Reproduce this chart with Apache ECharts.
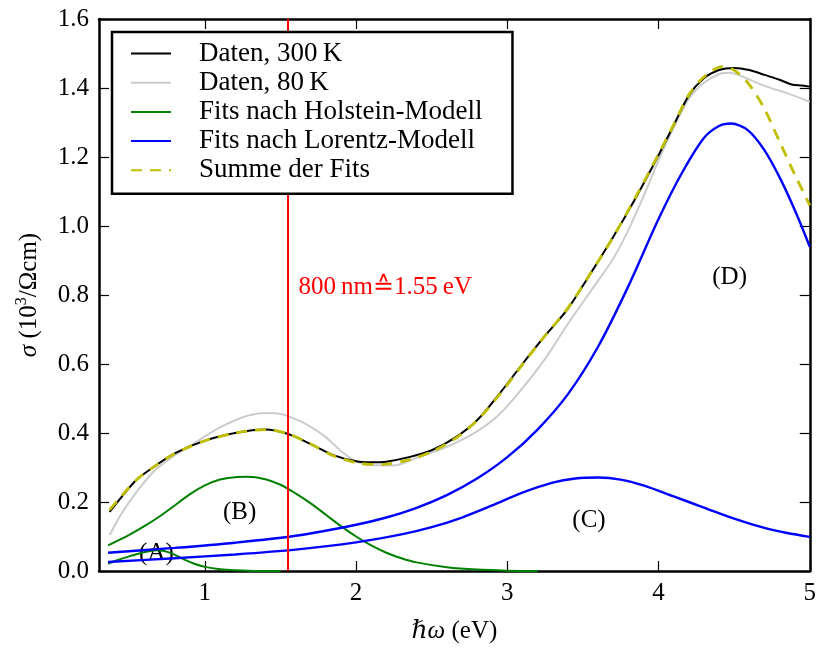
<!DOCTYPE html>
<html>
<head>
<meta charset="utf-8">
<script src="https://cdn.jsdelivr.net/npm/echarts@6/dist/echarts.min.js"></script>
<style>
html,body{margin:0;padding:0;background:#fff;}
#chart{width:819px;height:650px;}
</style>
</head>
<body>
<div id="chart"></div>
<script>
// ---- data ----
const x300 = [0.37,0.45,0.55,0.65,0.8,1.0,1.2,1.4,1.55,1.7,1.85,2.0,2.1,2.2,2.35,2.5,2.65,2.8,2.95,3.1,3.25,3.4,3.55,3.7,3.85,4.0,4.1,4.2,4.3,4.4,4.5,4.6,4.7,4.8,4.88,4.95,5.0];
const y300 = [0.171,0.215,0.265,0.298,0.341,0.378,0.400,0.410,0.397,0.368,0.336,0.318,0.315,0.317,0.330,0.350,0.385,0.437,0.515,0.600,0.682,0.760,0.862,0.968,1.082,1.205,1.292,1.378,1.428,1.452,1.458,1.452,1.438,1.424,1.410,1.407,1.404];

const x80 = [0.37,0.45,0.55,0.67,0.8,0.9,1.0,1.1,1.2,1.3,1.4,1.5,1.6,1.7,1.8,1.9,2.0,2.1,2.25,2.4,2.6,2.8,2.95,3.1,3.25,3.4,3.55,3.7,3.8,3.9,4.0,4.1,4.2,4.3,4.4,4.47,4.55,4.65,4.75,4.85,5.0];
const y80 = [0.104,0.167,0.230,0.292,0.335,0.362,0.390,0.416,0.437,0.452,0.458,0.455,0.440,0.418,0.388,0.348,0.318,0.307,0.306,0.328,0.360,0.405,0.455,0.530,0.615,0.716,0.810,0.905,0.988,1.085,1.190,1.285,1.368,1.415,1.440,1.444,1.434,1.415,1.399,1.385,1.360];

const xHolA = [0.36,0.42,0.49,0.56,0.63,0.68,0.73,0.78,0.83,0.88,0.93,1.0,1.1,1.2,1.35,1.5];
const yHolA = [0.021,0.031,0.041,0.050,0.057,0.060,0.058,0.051,0.041,0.030,0.021,0.012,0.005,0.002,0.0,0.0];

const xHolB = [0.36,0.5,0.6,0.7,0.8,0.9,1.0,1.1,1.2,1.28,1.4,1.5,1.6,1.7,1.8,1.9,2.0,2.1,2.2,2.3,2.4,2.6,2.8,3.0,3.2];
const yHolB = [0.0745,0.105,0.130,0.158,0.190,0.222,0.248,0.265,0.272,0.273,0.266,0.250,0.225,0.196,0.163,0.130,0.100,0.074,0.053,0.037,0.025,0.011,0.004,0.001,0.0];

const xLorC = [0.36,0.8,1.2,1.6,2.0,2.3,2.5,2.7,2.9,3.1,3.3,3.45,3.6,3.75,3.9,4.1,4.3,4.5,4.7,4.85,5.0];
const yLorC = [0.026,0.037,0.048,0.062,0.083,0.106,0.127,0.155,0.190,0.227,0.256,0.268,0.271,0.265,0.248,0.216,0.184,0.152,0.125,0.110,0.099];

const xLorD = [0.36,0.8,1.2,1.6,2.0,2.2,2.4,2.6,2.8,3.0,3.2,3.4,3.6,3.8,4.0,4.15,4.3,4.4,4.48,4.59,4.70,4.81,4.92,5.0];
const yLorD = [0.053,0.067,0.082,0.102,0.134,0.155,0.183,0.220,0.268,0.330,0.410,0.512,0.650,0.825,1.020,1.150,1.255,1.290,1.297,1.278,1.220,1.133,1.027,0.940];

const xSum = [0.37,0.45,0.55,0.65,0.8,1.0,1.2,1.4,1.55,1.7,1.85,2.0,2.1,2.2,2.35,2.5,2.65,2.8,2.95,3.1,3.25,3.4,3.55,3.7,3.85,4.0,4.1,4.2,4.3,4.42,4.5,4.6,4.7,4.8,4.9,5.0];
const ySum = [0.177,0.218,0.265,0.298,0.340,0.377,0.400,0.410,0.398,0.368,0.334,0.314,0.309,0.310,0.322,0.346,0.382,0.436,0.512,0.598,0.682,0.762,0.862,0.968,1.085,1.208,1.294,1.380,1.432,1.462,1.452,1.410,1.340,1.245,1.150,1.060];

const laserX = 1.55;
const laserText = '800\u2009nm\u22591.55\u2009eV';
const annoX = [0.68, 1.23, 3.54, 4.47];
const annoY = [0.051, 0.170, 0.147, 0.852];
const annoText = ['(A)', '(B)', '(C)', '(D)'];

const xTicks = [1, 2, 3, 4, 5];
const legendNames = ['Daten, 300\u2009K', 'Daten, 80\u2009K', 'Fits nach Holstein-Modell', 'Fits nach Lorentz-Modell', 'Summe der Fits'];

// ---- build ----
const zip = (xs, ys) => xs.map((x, i) => [x, ys[i]]);
const FONT = '"Liberation Serif", "DejaVu Serif", serif';

function lineSeries(name, xs, ys, color, width, extra) {
  return Object.assign({
    name: name, type: 'line', data: zip(xs, ys), symbol: 'none', showSymbol: false, smooth: 0.3,
    lineStyle: { color: color, width: width }, itemStyle: { color: color },
    emphasis: { disabled: true }, silent: true
  }, extra || {});
}

const axisCommon = {
  axisLine: { show: true, onZero: false, lineStyle: { color: '#000', width: 2.5 } },
  splitLine: { show: false }
};

const option = {
  animation: false,
  backgroundColor: '#fff',
  grid: { left: 99, right: 7, top: 19, bottom: 79, containLabel: false },
  xAxis: [
    Object.assign({}, axisCommon, {
      type: 'value', min: 0.3, max: 5, position: 'bottom',
      axisTick: { show: true, inside: true, length: 10, customValues: xTicks, lineStyle: { color: '#000', width: 1.2 } },
      axisLabel: { customValues: xTicks, fontFamily: FONT, fontSize: 25, color: '#000', margin: 10 },
      name: '{i|\u210F\u03C9} (eV)', nameLocation: 'middle', nameGap: 48,
      nameTextStyle: { fontFamily: FONT, fontSize: 25, color: '#000',
        rich: { i: { fontFamily: FONT, fontSize: 25, fontStyle: 'italic', color: '#000' } } }
    }),
    Object.assign({}, axisCommon, {
      type: 'value', min: 0.3, max: 5, position: 'top',
      axisTick: { show: true, inside: true, length: 10, customValues: xTicks, lineStyle: { color: '#000', width: 1.2 } },
      axisLabel: { show: false }
    })
  ],
  yAxis: [
    Object.assign({}, axisCommon, {
      type: 'value', min: 0, max: 1.6, interval: 0.2, position: 'left',
      axisTick: { show: true, inside: true, length: 10, lineStyle: { color: '#000', width: 1.2 } },
      axisLabel: { fontFamily: FONT, fontSize: 25, color: '#000', margin: 10, formatter: v => v.toFixed(1) },
      name: '{i|\u03C3} (10{sup|3}/\u03A9cm)', nameLocation: 'middle', nameGap: 55, nameRotate: 90,
      nameTextStyle: { fontFamily: FONT, fontSize: 25, color: '#000', lineHeight: 30,
        rich: {
          i: { fontFamily: FONT, fontSize: 25, fontStyle: 'italic', color: '#000', lineHeight: 30 },
          sup: { fontFamily: FONT, fontSize: 16, color: '#000', verticalAlign: 'top', lineHeight: 18 }
        } }
    }),
    Object.assign({}, axisCommon, {
      type: 'value', min: 0, max: 1.6, interval: 0.2, position: 'right',
      axisTick: { show: true, inside: true, length: 10, lineStyle: { color: '#000', width: 1.2 } },
      axisLabel: { show: false }
    })
  ],
  legend: {
    data: legendNames, orient: 'vertical', left: 112, top: 32,
    padding: [8, 30, 10, 18], itemGap: 2.2, itemWidth: 40, itemHeight: 14,
    backgroundColor: '#fff', borderColor: '#000', borderWidth: 2.5, borderRadius: 0,
    itemStyle: { opacity: 0 },
    textStyle: { fontFamily: FONT, fontSize: 27, color: '#000', lineHeight: 26.5, padding: [0, 0, 0, 23] },
    selectedMode: false
  },
  series: [
    lineSeries(legendNames[1], x80, y80, '#cccccc', 2),
    lineSeries(legendNames[0], x300, y300, '#000000', 2),
    lineSeries(legendNames[2], xHolA, yHolA, '#008000', 2),
    lineSeries(legendNames[2], xHolB, yHolB, '#008000', 2),
    lineSeries(legendNames[3], xLorC, yLorC, '#0000ff', 2.4),
    lineSeries(legendNames[3], xLorD, yLorD, '#0000ff', 2.4),
    lineSeries(legendNames[4], xSum, ySum, '#bfbf00', 2.8, {
      lineStyle: { color: '#bfbf00', width: 2.8, type: [11, 8] }
    }),
    {
      name: 'laser', type: 'line', symbol: 'none', silent: true,
      data: [[laserX, 0], [laserX, 1.6]],
      lineStyle: { color: '#ff0000', width: 2 }, z: 3
    },
    {
      name: 'laserLabel', type: 'scatter', symbolSize: 0, silent: true,
      itemStyle: { opacity: 1 },
      data: [[laserX + 0.07, 0.822]],
      label: { show: true, position: 'right', distance: 0, formatter: laserText,
        fontFamily: FONT, fontSize: 25, color: '#ff0000', opacity: 1 }
    },
    {
      name: 'anno', type: 'scatter', symbolSize: 0, silent: true,
      itemStyle: { opacity: 1 },
      data: annoX.map((x, i) => ({ value: [x, annoY[i]], name: annoText[i] })),
      label: { show: true, position: 'inside', formatter: p => p.name,
        fontFamily: FONT, fontSize: 25, color: '#000', opacity: 1 }
    }
  ]
};

const chart = echarts.init(document.getElementById('chart'), null, { renderer: 'canvas' });
chart.setOption(option);
</script>
</body>
</html>
